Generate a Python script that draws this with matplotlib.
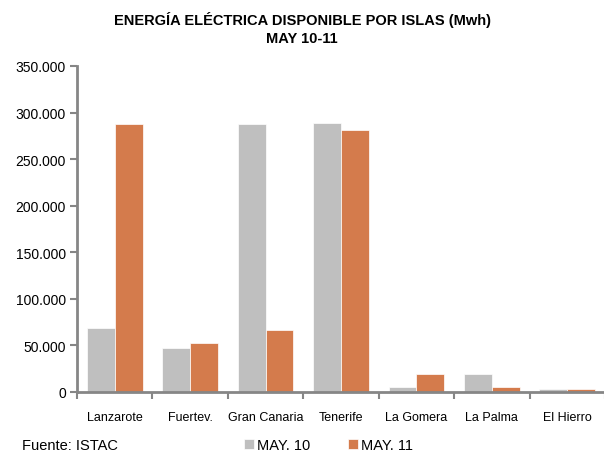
import numpy as np
import matplotlib
matplotlib.use('Agg')
import matplotlib.pyplot as plt
from matplotlib.ticker import FuncFormatter

plt.rcParams['font.family'] = ['Liberation Sans', 'DejaVu Sans']

islas = ['Lanzarote', 'Fuertev.', 'Gran Canaria', 'Tenerife', 'La Gomera', 'La Palma', 'El Hierro']
may10 = [68700, 47200, 288000, 289300, 5400, 19300, 3200]
may11 = [288200, 52600, 66500, 281300, 19300, 5400, 3300]
yticks = [0, 50000, 100000, 150000, 200000, 250000, 300000, 350000]

gris = '#BFBFBF'
naranja = '#D47B4C'
eje = '#868686'

fig = plt.figure(figsize=(6.04, 4.52), dpi=100)
ax = fig.add_axes([77/604, 1 - 393/452, 528/604, 326/452])

x = np.arange(len(islas))
w = 0.37
ax.bar(x - w/2, may10, w, color=gris, edgecolor='white', linewidth=0.5, label='MAY. 10')
ax.bar(x + w/2, may11, w, color=naranja, edgecolor='white', linewidth=0.5, label='MAY. 11')

ax.set_xlim(-0.5, len(islas) - 0.5)
ax.set_ylim(0, 350000)
ax.set_yticks(yticks)
ax.yaxis.set_major_formatter(FuncFormatter(lambda v, p: f'{int(v):,}'.replace(',', '.')))
ax.set_xticks(x)
ax.set_xticklabels(islas, fontsize=9)
ax.set_xticks(np.arange(len(islas) + 1) - 0.5, minor=True)
ax.tick_params(axis='x', which='major', length=0, pad=14)
ax.tick_params(axis='x', which='minor', length=5, width=1.5, color=eje, direction='out')
ax.tick_params(axis='y', length=5, width=1.5, color=eje, labelsize=10, pad=3)

for s in ['top', 'right']:
    ax.spines[s].set_visible(False)
for s in ['left', 'bottom']:
    ax.spines[s].set_color(eje)
    ax.spines[s].set_linewidth(2)

fig.text(0.5, 1 - 20/452, 'ENERGÍA ELÉCTRICA DISPONIBLE POR ISLAS (Mwh)', ha='center', va='center',
         fontsize=10.5, fontweight='bold')
fig.text(0.5, 1 - 39/452, 'MAY 10-11', ha='center', va='center', fontsize=10.5, fontweight='bold')
fig.text(22/604, 1 - 446/452, 'Fuente: ISTAC', ha='left', va='center', fontsize=10.5)

fig.legend(loc='center left', bbox_to_anchor=(244/604, 1 - 446/452), ncol=2, frameon=False,
           fontsize=10.5, handlelength=0.7, handleheight=0.7, handletextpad=0.2, columnspacing=2.6,
           borderaxespad=0, borderpad=0)

fig.savefig('out.png', dpi=100)
